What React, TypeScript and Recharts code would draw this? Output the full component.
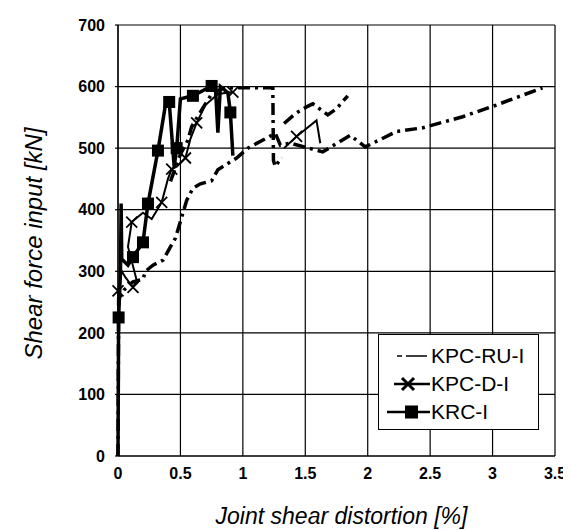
import React from 'react';
import { LineChart, Line, XAxis, YAxis, CartesianGrid, Legend } from 'recharts';

const FONT = '"Liberation Sans", Arial, Helvetica, sans-serif';

const xTicks = [0, 0.5, 1, 1.5, 2, 2.5, 3, 3.5];
const yTicks = [0, 100, 200, 300, 400, 500, 600, 700];

// KRC-I (thick solid, square markers)
const krcX = [0, 0.005, 0.02, 0.025, 0.03, 0.08, 0.12, 0.2, 0.24, 0.32, 0.38, 0.41, 0.45, 0.47, 0.5, 0.6, 0.75, 0.78, 0.8, 0.82, 0.88, 0.9, 0.92];
const krcY = [0, 225, 300, 410, 320, 310, 323, 347, 410, 496, 570, 575, 470, 500, 580, 585, 601, 600, 525, 600, 590, 558, 488];
const krcMark = [0, 1, 0, 0, 0, 0, 1, 1, 1, 1, 0, 1, 0, 1, 0, 1, 1, 0, 0, 0, 0, 1, 0];

// KPC-D-I (solid, cross markers)
const kpcDX = [0, 0.0, 0.03, 0.06, 0.12, 0.15, 0.08, 0.11, 0.2, 0.27, 0.35, 0.4, 0.43, 0.47, 0.54, 0.58, 0.63, 0.7, 0.8, 0.92, 1.1, 1.33, 1.43, 1.59, 1.62];
const kpcDY = [0, 268, 300, 290, 274, 285, 340, 380, 395, 385, 412, 450, 466, 470, 484, 515, 541, 570, 588, 591, null, 500, 519, 545, 508];
const kpcDMark = [0, 1, 0, 0, 1, 0, 0, 1, 0, 0, 1, 0, 1, 0, 1, 0, 1, 0, 0, 1, 0, 0, 1, 0, 0];

// KPC-RU-I (dash-dot), main branch
const kpcRuX = [0, 0.005, 0.05, 0.12, 0.2, 0.22, 0.28, 0.36, 0.46, 0.51, 0.55, 0.6, 0.66, 0.75, 0.8, 0.95, 1.04, 1.26, 1.3, 1.38, 1.64, 1.86, 1.98, 2.23, 2.44, 2.76, 3.03, 3.4];
const kpcRuY = [0, 255, 270, 283, 287, 300, 310, 318, 354, 388, 415, 435, 442, 447, 465, 484, 500, 524, 505, 508, 494, 521, 502, 527, 533, 551, 570, 598];

// KPC-RU-I (dash-dot), upper branch
const kpcRuUpX = [0.42, 0.5, 0.56, 0.59, 0.67, 0.75, 0.85, 1.24, 1.245, 1.26, 1.31, 1.32, 1.33, 1.42, 1.51, 1.56, 1.68, 1.75, 1.84];
const kpcRuUpY = [446, 490, 513, 535, 562, 588, 598, 598, 480, 470, 485, null, 540, 556, 567, 572, 554, 564, 585];

const build = (xs: number[], ys: (number | null)[], ms?: number[]) =>
  xs.map((x, i) => ({ x, y: ys[i], m: ms ? ms[i] === 1 : false }));

const krcData = build(krcX, krcY, krcMark);
const kpcDData = build(kpcDX, kpcDY, kpcDMark);
const kpcRuData = build(kpcRuX, kpcRuY);
const kpcRuUpData = build(kpcRuUpX, kpcRuUpY);

const SquareDot = (props: any) => {
  const { cx, cy, payload, index } = props;
  if (!payload || !payload.m || cx == null || cy == null || payload.y == null) return <g key={`sq${index}`} />;
  return <rect key={`sq${index}`} x={cx - 6} y={cy - 6} width={12} height={12} fill="#000" />;
};

const CrossDot = (props: any) => {
  const { cx, cy, payload, index } = props;
  if (!payload || !payload.m || cx == null || cy == null || payload.y == null) return <g key={`cr${index}`} />;
  const s = 5.5;
  return (
    <g key={`cr${index}`} stroke="#000" strokeWidth={1.8}>
      <line x1={cx - s} y1={cy - s} x2={cx + s} y2={cy + s} />
      <line x1={cx - s} y1={cy + s} x2={cx + s} y2={cy - s} />
    </g>
  );
};

const legendRows = [
  { name: 'KPC-RU-I', kind: 'ru', top: 9 },
  { name: 'KPC-D-I', kind: 'd', top: 37 },
  { name: 'KRC-I', kind: 'krc', top: 65 },
];

const LegendSymbol = ({ kind }: { kind: string }) => {
  if (kind === 'ru') {
    return (
      <svg width={54} height={24} style={{ position: 'absolute', left: 0, top: 0 }}>
        <line x1={18} y1={12} x2={48} y2={12} stroke="#000" strokeWidth={1.3} strokeDasharray="5 4 21" />
      </svg>
    );
  }
  if (kind === 'd') {
    return (
      <svg width={54} height={24} style={{ position: 'absolute', left: 0, top: 0 }}>
        <line x1={15} y1={12} x2={51} y2={12} stroke="#000" strokeWidth={2.5} />
        <line x1={23} y1={6} x2={35} y2={18} stroke="#000" strokeWidth={3} />
        <line x1={23} y1={18} x2={35} y2={6} stroke="#000" strokeWidth={3} />
      </svg>
    );
  }
  return (
    <svg width={54} height={24} style={{ position: 'absolute', left: 0, top: 0 }}>
      <line x1={8} y1={12} x2={51} y2={12} stroke="#000" strokeWidth={2.5} />
      <rect x={26} y={5.5} width={13} height={13} fill="#000" />
    </svg>
  );
};

const LegendBox = () => (
  <div
    style={{
      width: 161,
      height: 96,
      border: '1.5px solid #000',
      background: '#fff',
      boxSizing: 'border-box',
      position: 'relative',
      fontFamily: FONT,
    }}
  >
    {legendRows.map((r) => (
      <div key={r.name} style={{ position: 'absolute', left: 0, top: r.top, width: 158, height: 24 }}>
        <LegendSymbol kind={r.kind} />
        <span
          style={{
            position: 'absolute',
            left: 52,
            top: 0,
            fontSize: 21,
            lineHeight: '24px',
            color: '#000',
            whiteSpace: 'nowrap',
          }}
        >
          {r.name}
        </span>
      </div>
    ))}
  </div>
);

const XTitle = (props: any) => {
  const vb = props.viewBox || { x: 0, y: 0, width: 0, height: 0 };
  return (
    <text
      x={vb.x + vb.width / 2 + 5}
      y={vb.y + vb.height - 6}
      textAnchor="middle"
      fontFamily={FONT}
      fontStyle="italic"
      fontSize={23}
      fill="#000"
    >
      Joint shear distortion [%]
    </text>
  );
};

const YTitle = (props: any) => {
  const vb = props.viewBox || { x: 0, y: 0, width: 0, height: 0 };
  const cx = vb.x + 26;
  const cy = vb.y + vb.height / 2 + 3;
  return (
    <text
      x={cx}
      y={cy}
      dy="0.35em"
      transform={`rotate(-90, ${cx}, ${cy})`}
      textAnchor="middle"
      fontFamily={FONT}
      fontStyle="italic"
      fontSize={24}
      fill="#000"
    >
      Shear force input [kN]
    </text>
  );
};

const tickStyle = { fill: '#000', fontSize: 16, fontWeight: 700, fontFamily: FONT };

export default function App() {
  return (
    <div style={{ width: 563, height: 522, fontFamily: FONT }}>
      <LineChart width={563} height={522} margin={{ top: 17, right: 16, bottom: 0, left: 0 }}>
        <CartesianGrid stroke="#000" strokeWidth={1.2} />
        <XAxis
          type="number"
          dataKey="x"
          domain={[0, 3.5]}
          ticks={xTicks}
          interval={0}
          height={74}
          tickSize={3}
          tickLine={false}
          tickMargin={9}
          axisLine={{ stroke: '#000', strokeWidth: 1.2 }}
          tick={tickStyle}
          tickFormatter={(v: number) => String(v)}
          label={XTitle}
        />
        <YAxis
          type="number"
          domain={[0, 700]}
          ticks={yTicks}
          interval={0}
          width={110}
          tickSize={3}
          tickLine={{ stroke: '#000', strokeWidth: 1.2 }}
          tickMargin={10}
          axisLine={{ stroke: '#000', strokeWidth: 1.2 }}
          tick={tickStyle}
          label={YTitle}
        />
        <Legend
          layout="vertical"
          align="center"
          verticalAlign="middle"
          content={() => <LegendBox />}
          wrapperStyle={{ left: 370, top: 326, width: 161, height: 96 }}
        />
        <Line
          data={kpcRuData}
          dataKey="y"
          name="KPC-RU-I"
          type="linear"
          stroke="#000"
          strokeWidth={3.5}
          strokeDasharray="12 5 3 5"
          dot={false}
          activeDot={false}
          isAnimationActive={false}
        />
        <Line
          data={kpcRuUpData}
          dataKey="y"
          name="KPC-RU-I upper"
          type="linear"
          stroke="#000"
          strokeWidth={3.5}
          strokeDasharray="12 5 3 5"
          dot={false}
          activeDot={false}
          legendType="none"
          isAnimationActive={false}
        />
        <Line
          data={kpcDData}
          dataKey="y"
          name="KPC-D-I"
          type="linear"
          stroke="#000"
          strokeWidth={2}
          dot={CrossDot}
          activeDot={false}
          isAnimationActive={false}
        />
        <Line
          data={krcData}
          dataKey="y"
          name="KRC-I"
          type="linear"
          stroke="#000"
          strokeWidth={3.5}
          dot={SquareDot}
          activeDot={false}
          isAnimationActive={false}
        />
      </LineChart>
    </div>
  );
}
